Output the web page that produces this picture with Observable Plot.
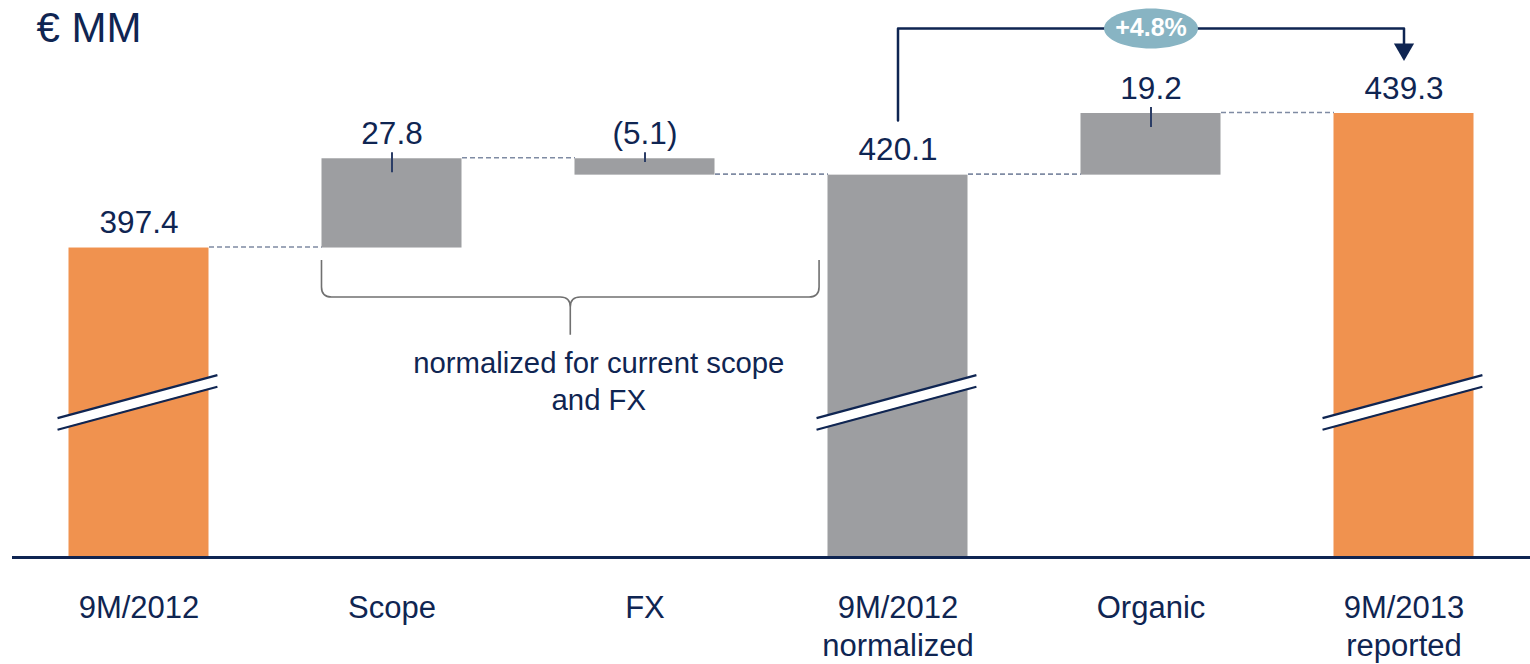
<!DOCTYPE html>
<html><head><meta charset="utf-8">
<script src="https://cdn.jsdelivr.net/npm/d3@7"></script>
<script src="https://cdn.jsdelivr.net/npm/@observablehq/plot@0.6"></script>
<style>body{margin:0;background:#fff;font-family:"Liberation Sans",Arial,sans-serif}</style>
</head><body><div id="chart"></div>
<script>
// ---- data ----
const categories = ["9M/2012","Scope","FX","9M/2012\nnormalized","Organic","9M/2013\nreported"];
const values = [397.4, 27.8, -5.1, 420.1, 19.2, 439.3];
const kinds = ["total","delta","delta","total","delta","total"];
const valueLabels = ["397.4","27.8","(5.1)","420.1","19.2","439.3"];
const barColors = ["#f0924f","#9d9ea1","#9d9ea1","#9d9ea1","#9d9ea1","#f0924f"];
const growthLabel = "+4.8%";
const bracketNote = "normalized for current scope\nand FX";
const unitTitle = "€ MM";

// ---- layout constants (scale domain / annotation levels in data units) ----
const axisBase = 301;          // broken-axis bottom
const axisTop = 474.5;
const hw = 0.2767;             // half bar width (in category steps)
const navy = "#0f2552";
const breakLeft = 342.6, breakRight = 356.0, breakHalfGap = 1.8;
const braceTop = 393.5, braceMid = 382, braceTip = 370.2;
const growthStart = 437.1, growthLevel = 465.8, growthEnd = 458.5, arrowAt = 459.3;

// ---- derived waterfall table ----
let run = 0;
const bars = categories.map((c, i) => {
  let y1, y2;
  if (kinds[i] === "total") { y1 = axisBase; y2 = values[i]; run = values[i]; }
  else { y1 = run; y2 = run + values[i]; run = y2; }
  return {i, c, y1, y2, top: Math.max(y1, y2), end: run, kind: kinds[i], label: valueLabels[i], color: barColors[i], v: values[i]};
});
const connectors = bars.slice(0, -1).map(d => ({x1: d.i + hw, x2: d.i + 1 - hw, y: d.end}));
const totals = bars.filter(d => d.kind === "total");
const deltas = bars.filter(d => d.kind === "delta");
const breakPts = totals.flatMap(d => [
  {z: d.i, x: d.i - 0.322, lo: breakLeft - breakHalfGap, hi: breakLeft + breakHalfGap},
  {z: d.i, x: d.i + 0.31, lo: breakRight - breakHalfGap, hi: breakRight + breakHalfGap}
]);
const breakLines = [];
for (let k = 0; k < breakPts.length; k += 2) {
  const p = breakPts[k], q = breakPts[k + 1];
  breakLines.push({x1: p.x, x2: q.x, y1: p.lo, y2: q.lo}, {x1: p.x, x2: q.x, y1: p.hi, y2: q.hi});
}
const braceL = 1 - hw, braceR = 3 - 0.31;
const growthPath = [
  {x: 3, y: growthStart}, {x: 3, y: growthLevel}, {x: 5, y: growthLevel}, {x: 5, y: growthEnd}
];

// ellipse symbol for the growth badge
const ellipse = {
  draw(ctx, size) {
    const r = Math.sqrt(size / Math.PI), rx = r * 2.35, ry = r, k = 0.5523;
    ctx.moveTo(-rx, 0);
    ctx.bezierCurveTo(-rx, -ry * k, -rx * k, -ry, 0, -ry);
    ctx.bezierCurveTo(rx * k, -ry, rx, -ry * k, rx, 0);
    ctx.bezierCurveTo(rx, ry * k, rx * k, ry, 0, ry);
    ctx.bezierCurveTo(-rx * k, ry, -rx, ry * k, -rx, 0);
    ctx.closePath();
  }
};

// curly brace drawn through the plot's scales
function braceMark(index, scales) {
  const x = scales.x, y = scales.y;
  const xl = x(braceL), xr = x(braceR), xm = (xl + xr) / 2;
  const yt = y(braceTop), yh = y(braceMid), ytip = y(braceTip), r = 10;
  const p = d3.path();
  p.moveTo(xl, yt); p.lineTo(xl, yh - r); p.quadraticCurveTo(xl, yh, xl + r, yh);
  p.lineTo(xm - r, yh); p.quadraticCurveTo(xm, yh, xm, yh + r); p.lineTo(xm, ytip);
  p.moveTo(xm, yh + r); p.quadraticCurveTo(xm, yh, xm + r, yh);
  p.lineTo(xr - r, yh); p.quadraticCurveTo(xr, yh, xr, yh - r); p.lineTo(xr, yt);
  const g = d3.create("svg:path").attr("d", p.toString()).attr("fill", "none")
    .attr("stroke", "#707070").attr("stroke-width", 1.6);
  return g.node();
}

const chart = Plot.plot({
  width: 1530, height: 664,
  marginLeft: 12, marginRight: 0, marginTop: 0, marginBottom: 107,
  x: {type: "linear", domain: [-0.5, 5.5], axis: null},
  y: {domain: [axisBase, axisTop], axis: null},
  style: {fontFamily: '"Liberation Sans", Arial, sans-serif', color: navy, background: "white"},
  marks: [
    Plot.link(connectors, {x1: "x1", x2: "x2", y1: "y", y2: "y", stroke: "#7f8ba3", strokeWidth: 1.6, strokeDasharray: "5,3", dy: -1}),
    Plot.rect(bars, {x1: d => d.i - hw, x2: d => d.i + hw, y1: "y1", y2: "y2", fill: "color"}),
    Plot.areaY(breakPts, {x: "x", y1: "lo", y2: "hi", z: "z", fill: "white"}),
    Plot.link(breakLines, {x1: "x1", x2: "x2", y1: "y1", y2: "y2", stroke: navy, strokeWidth: 2.2}),
    Plot.ruleX(deltas, {x: "i", y1: "top", y2: d => d.top - Math.min(6.2, 0.6 * Math.abs(d.v)), dy: -6, stroke: "#2b3d66", strokeWidth: 2}),
    Plot.text(bars, {x: "i", y: "top", text: "label", dy: -25, lineAnchor: "middle", fontSize: 31.5, fill: navy}),
    Plot.ruleY([axisBase], {stroke: navy, strokeWidth: 3}),
    Plot.text(categories, {x: (d, i) => i, frameAnchor: "bottom", lineAnchor: "top", dy: 33, lineHeight: 1.24, fontSize: 31, fill: navy}),
    braceMark,
    Plot.text([bracketNote], {x: (braceL + braceR) / 2, y: braceTip, dx: 28, dy: 11, lineAnchor: "top", lineHeight: 1.27, fontSize: 29.3, fill: navy}),
    Plot.line(growthPath, {x: "x", y: "y", stroke: navy, strokeWidth: 2.5}),
    Plot.dot([{x: 5, y: arrowAt}], {x: "x", y: "y", symbol: "triangle", rotate: 180, r: 7.5, fill: navy, stroke: "none"}),
    Plot.dot([{x: 4, y: growthLevel}], {x: "x", y: "y", symbol: ellipse, r: 20, fill: "#88b4c3", stroke: "none"}),
    Plot.text([growthLabel], {x: 4, y: growthLevel, fill: "white", fontWeight: "bold", fontSize: 25, lineAnchor: "middle"}),
    Plot.text([unitTitle], {frameAnchor: "top-left", dx: 24, dy: 12, lineAnchor: "top", textAnchor: "start", fontSize: 42, fill: navy})
  ]
});
document.getElementById("chart").appendChild(chart);
</script>
</body></html>
